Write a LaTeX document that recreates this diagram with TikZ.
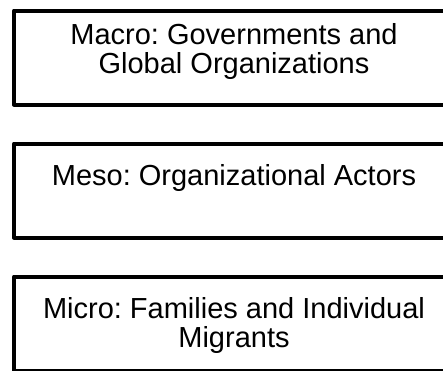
\documentclass[tikz,border=0pt]{standalone}
\usepackage{fontspec}
\setmainfont{Liberation Sans}
\usetikzlibrary{positioning}
\frenchspacing

\begin{document}
\begin{tikzpicture}[x = 1pt, y = -1pt, node distance = 133pt]
\tikzset{
  levelbox/.style = {draw, line width = 4pt, line join = round, rectangle, minimum width = 440pt, minimum height = 94pt, inner sep = 0pt},
  leveltext/.style = {align = center, inner sep = 0pt, font = \fontsize{29}{29}\selectfont},
}
\useasboundingbox (0,0) rectangle (443,370);
\node [levelbox] (macro) at (234,57.5) {};
\node [levelbox, below of = macro] (meso) {};
\node [levelbox, below of = meso] (micro) {};
\node [leveltext, below = 15pt of macro.north] (macroText) {Macro: Governments and\\Global Organizations};
\node [leveltext, below = 23pt of meso.north] (mesoText) {Meso: Organizational Actors};
\node [leveltext, below = 23pt of micro.north] (microText) {Micro: Families and Individual\\Migrants};
\end{tikzpicture}
\end{document}
